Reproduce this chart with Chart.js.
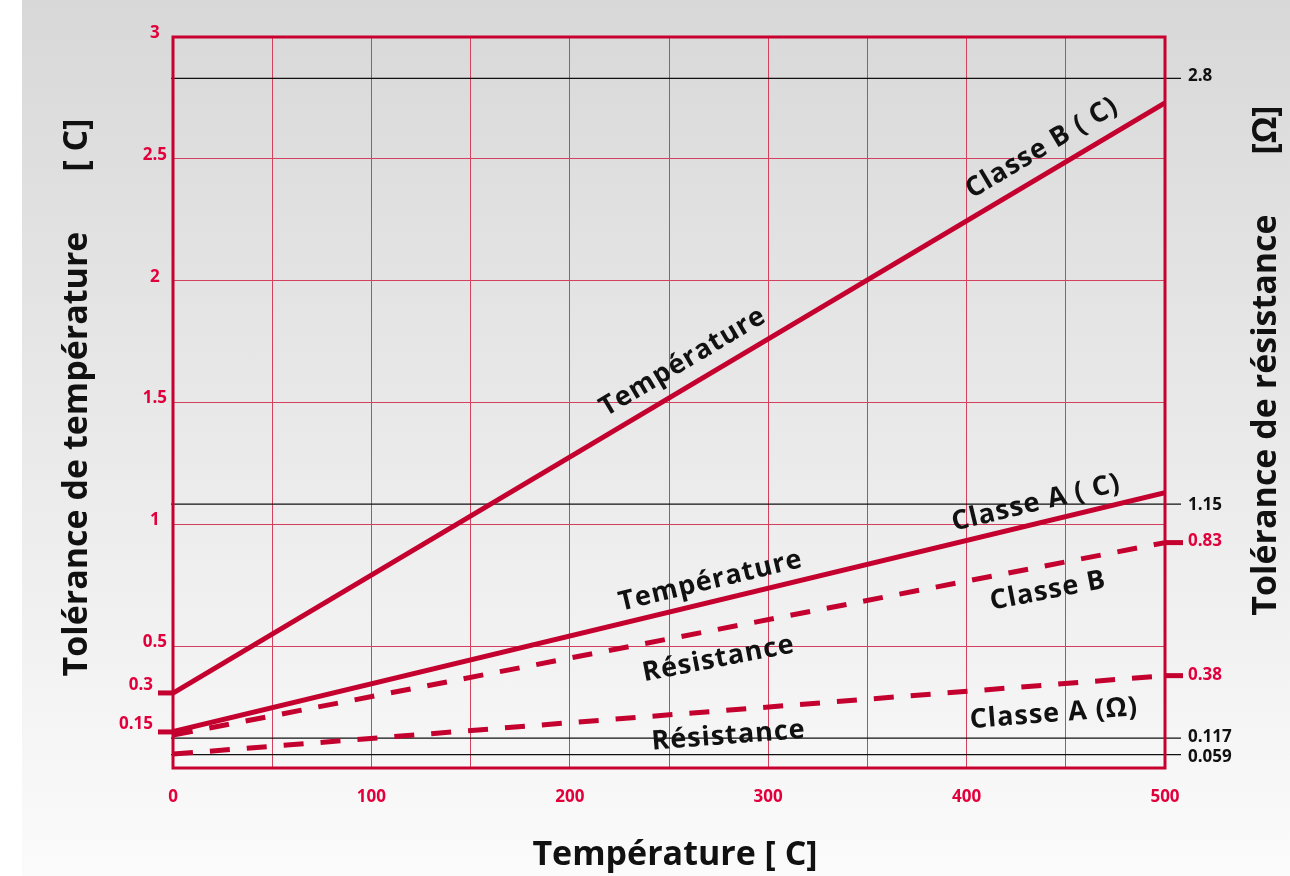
<!DOCTYPE html>
<html>
<head>
<meta charset="utf-8">
<script src="https://cdn.jsdelivr.net/npm/chart.js@4.4.1/dist/chart.umd.min.js"></script>
<style>
	body { margin: 0; background: #fff; }
	#bg { position: absolute; left: 22px; top: 0; width: 1268px; height: 876px; background: linear-gradient(#d8d8d8, #fbfbfb); }
	#wrap { position: absolute; left: 0; top: 0; width: 1290px; height: 876px; }
</style>
</head>
<body>
<div id="bg"></div>
<div id="wrap"><canvas id="chart" width="1290" height="876"></canvas></div>
<script>
// temperature (x) and tolerance values
const temps = [0, 500];
const classeBTemp = [0.307, 2.73];
const classeATemp = [0.15, 1.13];
const classeBRes = [0.135, 0.925];
const classeARes = [0.057, 0.379];

const xTicks = [0, 100, 200, 300, 400, 500];

// right hand labels (resistance) and where they sit on the left scale
const rightLabels = ['2.8', '1.15', '0.83', '0.38', '0.117', '0.059'];
const rightLabelPos = [2.84, 1.08, 0.93, 0.38, 0.127, 0.045];
const rightLabelRed = [false, false, true, true, false, false];

const refLines = [2.83, 1.083, 0.123, 0.055];
const leftStubs = [0.308, 0.148];
const leftStubLabels = ['0.3', '0.15'];
const rightStubs = [0.925, 0.379];

const noteTexts = ['Classe B ( C)', 'Température', 'Classe A ( C)', 'Température', 'Classe B', 'Résistance', 'Classe A (Ω)', 'Résistance'];
const noteX = [438, 257, 435, 271, 441, 275, 444, 280];
const noteY = [2.544, 1.666, 1.087, 0.767, 0.726, 0.447, 0.222, 0.131];
const noteSeries = [0, 0, 1, 1, 2, 2, 3, 3];

const lineRed = '#c4002f';
const labelRed = '#e2003c';
const gridRed = '#d4415f';
const font = '"Open Sans", "Noto Sans", sans-serif';

function points(values) {
	return temps.map((t, i) => ({x: t, y: values[i]}));
}

function series(values, dashed) {
	return {
		data: points(values),
		borderColor: lineRed,
		borderWidth: 5,
		borderDash: dashed ? [20, 17] : [],
		pointRadius: 0,
		tension: 0
	};
}

const extras = {
	id: 'extras',
	beforeDatasetsDraw(c) {
		const {ctx, chartArea: a, scales: {y}} = c;
		ctx.save();
		ctx.strokeStyle = '#111';
		ctx.lineWidth = 1.3;
		refLines.forEach(v => {
			const p = y.getPixelForValue(v);
			ctx.beginPath();
			ctx.moveTo(a.left - 2, p);
			ctx.lineTo(a.right + 16, p);
			ctx.stroke();
		});
		ctx.strokeStyle = '#c8002f';
		ctx.lineWidth = 3;
		ctx.strokeRect(a.left, a.top, a.right - a.left, a.bottom - a.top);
		ctx.restore();
	},
	afterDatasetsDraw(c) {
		const {ctx, chartArea: a, scales: {x, y}} = c;
		ctx.save();
		// red stubs at the axis
		ctx.strokeStyle = lineRed;
		ctx.lineWidth = 5;
		leftStubs.forEach(v => {
			const p = y.getPixelForValue(v);
			ctx.beginPath(); ctx.moveTo(a.left - 15, p); ctx.lineTo(a.left, p); ctx.stroke();
		});
		rightStubs.forEach(v => {
			const p = y.getPixelForValue(v);
			ctx.beginPath(); ctx.moveTo(a.right, p); ctx.lineTo(a.right + 18, p); ctx.stroke();
		});
		ctx.fillStyle = labelRed;
		ctx.font = 'bold 17px ' + font;
		ctx.textAlign = 'right';
		ctx.textBaseline = 'middle';
		leftStubs.forEach((v, i) => ctx.fillText(leftStubLabels[i], a.left - 20, y.getPixelForValue(v) - 8));

		// notes along the lines
		const all = [classeBTemp, classeATemp, classeBRes, classeARes];
		ctx.fillStyle = '#111';
		ctx.font = 'bold 27px ' + font;
		ctx.letterSpacing = '1px';
		ctx.textAlign = 'center';
		noteTexts.forEach((txt, i) => {
			const s = all[noteSeries[i]];
			const ang = Math.atan2(y.getPixelForValue(s[1]) - y.getPixelForValue(s[0]), x.getPixelForValue(temps[1]) - x.getPixelForValue(temps[0]));
			ctx.save();
			ctx.translate(x.getPixelForValue(noteX[i]), y.getPixelForValue(noteY[i]));
			ctx.rotate(ang);
			ctx.fillText(txt, 0, 0);
			ctx.restore();
		});

		// axis titles
		ctx.letterSpacing = '0px';
		ctx.font = 'bold 34px ' + font;
		ctx.fillText('Température [ C]', 675, 855);
		[[77, 454, 'Tolérance de température'], [77, 145, '[ C]'], [1266, 415, 'Tolérance de résistance'], [1266, 130, '[Ω]']].forEach(t => {
			ctx.save();
			ctx.translate(t[0], t[1]);
			ctx.rotate(-Math.PI / 2);
			ctx.fillText(t[2], 0, 0);
			ctx.restore();
		});
		ctx.restore();
	}
};

let chart;

function init() {
	const tickFont = {family: font, weight: 'bold', size: 17};
	const config = {
		type: 'line',
		data: {
			datasets: [series(classeBTemp, false), series(classeATemp, false), series(classeBRes, true), series(classeARes, true)]
		},
		options: {
			responsive: false,
			animation: false,
			layout: {padding: {left: 100, right: 30, top: 37, bottom: 60}},
			plugins: {legend: {display: false}, tooltip: {enabled: false}},
			scales: {
				x: {
					type: 'linear', min: 0, max: 500,
					afterFit: s => { s.height = 48; },
					border: {display: false},
					grid: {color: gridRed, lineWidth: 1, drawTicks: false},
					ticks: {
						stepSize: 50, autoSkip: false, maxRotation: 0, padding: 19,
						color: labelRed, font: tickFont,
						callback: v => xTicks.includes(v) ? '' + v : ''
					}
				},
				y: {
					min: 0, max: 3,
					afterFit: s => { s.width = 73; },
					border: {display: false},
					grid: {color: gridRed, lineWidth: 1, drawTicks: false},
					ticks: {
						stepSize: 0.5, padding: 6, crossAlign: 'center', labelOffset: -4,
						color: labelRed, font: tickFont,
						callback: v => v === 0 ? '' : '' + v
					}
				},
				y2: {
					position: 'right', min: 0, max: 3,
					afterFit: s => { s.width = 95; },
					afterBuildTicks: s => { s.ticks = rightLabelPos.map(v => ({value: v})); },
					border: {display: false},
					grid: {display: false, drawTicks: false},
					ticks: {
						autoSkip: false, padding: 23, crossAlign: 'near',
						color: ctx => rightLabelRed[ctx.index] ? labelRed : '#111',
						font: tickFont,
						callback: (v, i) => rightLabels[i]
					}
				}
			}
		},
		plugins: [extras]
	};
	chart = new Chart(document.getElementById('chart'), config);
}

init();
</script>
</body>
</html>
